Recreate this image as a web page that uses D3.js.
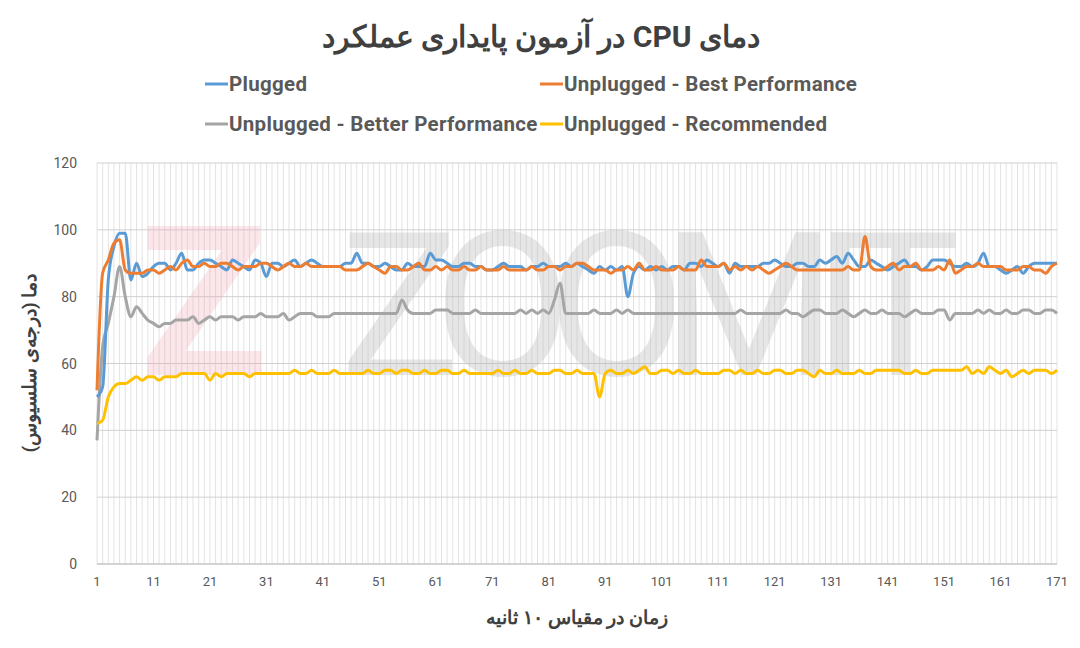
<!DOCTYPE html>
<html><head><meta charset="utf-8">
<script src="https://cdn.jsdelivr.net/npm/d3@7"></script>
<style>body{margin:0;background:#fff}text{font-family:Roboto,"Noto Sans",sans-serif}</style>
</head><body><svg id="c" width="1080" height="648"></svg>
<script>
const plugged=[50,53,85,95,99,99,85,90,86,87,89,90,90,88,90,93,88,88,90,91,91,90,89,88,91,90,89,88,91,90,86,90,90,89,90,91,89,90,91,90,89,89,89,89,90,90,93,90,90,89,89,90,89,88,88,90,89,89,89,93,91,91,90,89,89,90,90,89,89,88,88,89,90,89,89,89,88,89,89,90,89,89,89,90,89,90,89,88,87,89,88,89,88,89,80,87,89,88,89,88,89,88,89,89,88,90,90,89,91,90,89,90,87,90,89,89,89,89,90,90,91,90,89,89,90,90,89,89,91,90,91,92,90,93,91,89,89,91,90,89,88,89,90,91,89,89,88,89,91,91,91,90,89,89,90,89,90,93,89,89,88,87,88,89,87,89,90,90,90,90,90];
const bestPerf=[52,87,91,96,97,88,87,87,87,88,88,87,88,89,88,90,91,89,89,90,89,89,90,90,89,88,89,89,89,90,90,89,88,89,90,89,89,90,89,89,89,89,89,89,88,88,88,89,90,89,88,87,89,89,88,88,89,90,88,88,89,88,89,88,88,89,88,88,89,88,88,88,89,88,88,88,88,89,88,88,89,89,88,89,89,90,90,89,88,88,88,87,88,88,89,88,90,88,88,89,88,88,88,89,88,88,88,91,89,89,89,90,88,89,88,89,88,89,88,87,88,89,90,89,88,88,88,88,88,88,88,88,88,89,88,88,98,89,88,88,89,90,88,89,89,90,88,88,88,89,88,91,87,88,89,89,90,89,89,89,89,88,88,88,89,89,88,88,87,89,90];
const betterPerf=[37,65,72,80,89,80,74,77,75,73,72,71,72,72,73,73,73,74,72,73,74,73,74,74,74,73,74,74,74,75,74,74,74,75,73,74,75,75,75,74,74,74,75,75,75,75,75,75,75,75,75,75,75,75,79,76,75,75,75,75,76,76,76,75,75,75,75,76,75,75,75,75,75,75,75,76,75,76,75,76,75,79,84,75,75,75,75,75,76,75,75,75,76,75,76,75,75,75,75,75,75,75,75,75,75,75,75,75,75,75,75,75,75,75,76,75,75,75,75,75,75,75,76,75,75,74,75,76,76,75,75,75,76,75,74,75,76,75,75,76,75,75,75,74,75,76,75,75,75,76,76,73,75,75,75,75,76,75,76,75,75,76,75,75,76,76,75,75,76,76,75];
const recommended=[42,43,50,53,54,54,55,56,55,56,56,55,56,56,56,57,57,57,57,57,55,57,56,57,57,57,57,56,57,57,57,57,57,57,57,58,57,57,58,57,57,57,58,57,57,57,57,57,58,57,57,58,58,57,58,58,57,57,58,57,57,58,58,57,57,58,57,57,57,57,57,58,57,57,58,57,57,58,57,57,57,58,58,57,57,58,57,57,57,50,57,58,57,57,58,57,58,59,57,57,58,58,57,58,57,57,58,57,57,57,57,58,58,57,58,57,57,58,57,57,58,58,57,57,58,58,57,56,58,57,57,58,57,57,57,58,57,57,58,58,58,58,58,57,57,58,57,57,58,58,58,58,58,58,59,57,58,57,59,58,57,58,56,57,58,57,58,58,58,57,58];
const seriesNames=["Plugged","Unplugged - Best Performance","Unplugged - Better Performance","Unplugged - Recommended"];
const colors=["#5B9BD5","#ED7D31","#A5A5A5","#FFC000"];
const yTicks=[0,20,40,60,80,100,120];
const xTicks=d3.range(1,172,10);
const title="دمای CPU در آزمون پایداری عملکرد";
const xLabel="زمان در مقیاس ۱۰ ثانیه";
const yLabel="دما (درجه‌ی سلسیوس)";

const svg=d3.select("#c");
const L=97,R=1057,T=163,B=564;
const x=d3.scaleLinear().domain([1,171]).range([L,R]);
const y=d3.scaleLinear().domain([0,120]).range([B,T]);
const g=svg.append("g");
g.selectAll(".vg").data(d3.range(1,172)).join("line").attr("x1",d=>x(d)).attr("x2",d=>x(d)).attr("y1",T).attr("y2",B).attr("stroke","#e3e3e3").attr("stroke-width",1);
g.selectAll(".hg").data(yTicks).join("line").attr("x1",L).attr("x2",R).attr("y1",d=>y(d)).attr("y2",d=>y(d)).attr("stroke","#d0d0d0");
g.append("line").attr("x1",L).attr("x2",R).attr("y1",B).attr("y2",B).attr("stroke","#bfbfbf");
g.append("text").attr("x",140).attr("y",375).attr("font-size",210).attr("font-weight",700).attr("fill","#f0a0b0").attr("opacity",0.25).text("Z");
g.append("text").attr("x",340).attr("y",375).attr("font-size",200).attr("font-weight",400).attr("fill","#b0b0b0").attr("opacity",0.3).attr("textLength",620).text("ZOOMIT");
g.selectAll(".yt").data(yTicks).join("text").attr("x",77).attr("y",d=>y(d)+5).attr("text-anchor","end").attr("font-size",14).attr("fill","#595959").text(d=>d);
g.selectAll(".xt").data(xTicks).join("text").attr("x",d=>x(d)).attr("y",B+22).attr("text-anchor","middle").attr("font-size",13).attr("fill","#595959").text(d=>d);
const data=[plugged,bestPerf,betterPerf,recommended];
const line=d3.line().x((d,i)=>x(i+1)).y(d=>y(d)).curve(d3.curveMonotoneX);
[2,3,0,1].forEach(k=>g.append("path").attr("d",line(data[k])).attr("fill","none").attr("stroke",colors[k]).attr("stroke-width",3).attr("stroke-linejoin","round"));
svg.append("text").attr("x",541).attr("y",47).attr("text-anchor","middle").attr("direction","rtl").attr("font-size",30).attr("font-weight",700).attr("fill","#404040").attr("font-family","'Noto Sans','DejaVu Sans',sans-serif").text(title);
const lg=[[205,84],[540,84],[205,124],[540,124]];
lg.forEach((p,i)=>{svg.append("line").attr("x1",p[0]).attr("x2",p[0]+23).attr("y1",p[1]).attr("y2",p[1]).attr("stroke",colors[i]).attr("stroke-width",3);
svg.append("text").attr("x",p[0]+24).attr("y",p[1]+7).attr("font-size",20.5).attr("font-weight",700).attr("letter-spacing",0.3).attr("fill","#595959").text(seriesNames[i]);});
svg.append("text").attr("x",577).attr("y",624).attr("text-anchor","middle").attr("direction","rtl").attr("font-size",19).attr("font-weight",700).attr("fill","#404040").attr("font-family","'Noto Sans','DejaVu Sans',sans-serif").text(xLabel);
svg.append("text").attr("transform","translate(36,363) rotate(-90)").attr("text-anchor","middle").attr("direction","rtl").attr("font-size",19).attr("font-weight",700).attr("fill","#404040").attr("font-family","'Noto Sans','DejaVu Sans',sans-serif").text(yLabel);
</script></body></html>
